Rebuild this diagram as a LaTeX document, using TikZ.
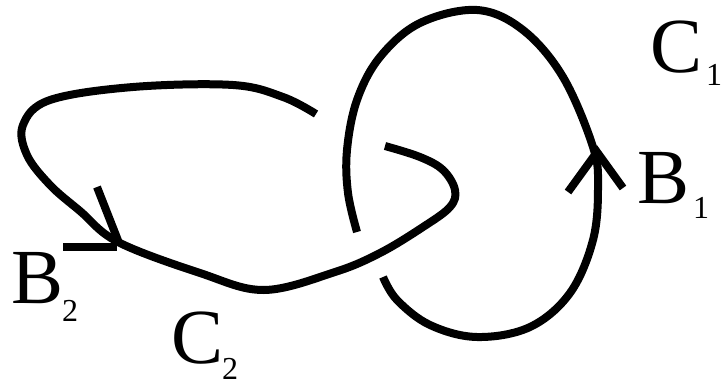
\documentclass[tikz,border=0pt]{standalone}
\usepackage{fontspec}
\newfontfamily\labfont{Liberation Serif}
\tikzset{
  strand/.style={line width=8pt, line cap=butt, line join=round},
  tick/.style={line width=8pt, line cap=butt},
  big/.style={anchor=base west, inner sep=0pt, font=\labfont\fontsize{78}{80}\selectfont},
  small/.style={anchor=base west, inner sep=0pt, font=\labfont\fontsize{32}{34}\selectfont}
}
\begin{document}
\begin{tikzpicture}[x=1pt, y=-1pt]
\useasboundingbox (0,0) rectangle (723,386);
% C2
\draw[strand] plot[smooth, tension=0.6] coordinates {
 (316,114) (283,97) (233,85) (133,87) (50,100) (23,125) (27,155) (50,185) (80,211) (118,242)
 (200,273) (264,290) (335,272) (380,253) (423,227) (450,207) (455,190) (443,170) (420,157) (385,146)};
% C1
\draw[strand] plot[smooth, tension=0.6] coordinates {
 (357,232) (348,193) (347,150) (357,100) (380,57) (420,23) (477,10) (523,30) (563,77)
 (593,147) (598,187) (593,240) (570,293) (530,327) (477,337) (430,325) (397,300) (383,277)};
% arrowheads
\coordinate (b1tip) at (597,152);
\coordinate (b1l) at (568,192);
\coordinate (b1r) at (623,188);
\draw[tick] (b1l) -- (b1tip) -- (b1r);
\coordinate (b2tip) at (119,243);
\coordinate (b2a) at (97,187);
\coordinate (b2h) at (117,247);
\coordinate (b2b) at (63,247);
\draw[tick] (b2a) -- (b2tip);
\draw[tick] (b2b) -- (b2h);
% labels
\node[big] (c1) at (650,72) {C};
\node[small] (c1s) at (706,85) {1};
\node[big] (b1) at (637,203) {B};
\node[small] (b1s) at (693,218) {1};
\node[big] (b2) at (11,303) {B};
\node[small] (b2s) at (62,321) {2};
\node[big] (c2) at (171,363) {C};
\node[small] (c2s) at (222,379) {2};
\end{tikzpicture}
\end{document}
